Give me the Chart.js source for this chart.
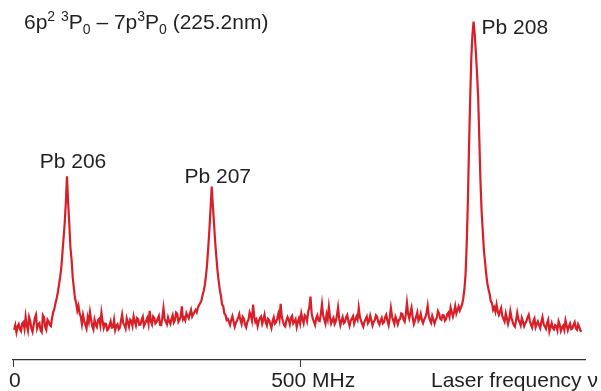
<!DOCTYPE html>
<html>
<head>
<meta charset="utf-8">
<script src="https://cdn.jsdelivr.net/npm/chart.js@4.4.1/dist/chart.umd.min.js"></script>
<style>
  body { margin: 0; background: #fff; }
  canvas { display: block; }
</style>
</head>
<body>
<canvas id="spectrum" width="601" height="391"></canvas>
<script>
// frequency grid of the scan (MHz)
const freqStartMHz = 2;
const freqStepMHz = 2;

// fluorescence signal, arbitrary units (baseline ~0, Pb 208 peak ~100)
const signal = [
  // 2 - 66
  -2.4, -0.9, -3.3, -1.4, -0.6, -2.2, -2.9, -0.3, 0.1, -2.1,
  1.9, -1.0, -2.7, 1.8, 0.5, -1.9, -3.1, -0.8, 1.5, 2.6,
  -1.9, -0.6, -0.2, -2.6, -3.2, 2.4, 1.7, -1.4, -2.4, 0.9,
  0.3, -0.8, -1.2,
  // 68 - 120  (Pb 206)
  1.5, 3.5, 4.5, 6.5, 8.0, 10, 12.5, 15, 18, 23,
  28, 33, 40, 48.7, 40, 33, 25, 21, 15, 11.5,
  8.0, 6.5, 4.0, 5.5, 3.0, 2.0, -0.5,
  // 122 - 314
  2.5, 0.6, -0.8, -2.0, 1.8, 0.2, 3.5, 1.0, -1.2, -2.3,
  0.9, -0.7, -1.5, 0.8, 1.2, -0.9, 3.2, 0.4, -1.8, -0.4,
  -0.5, -2.6, -2.2, -0.9, 0.4, -1.7, -1.6, 0.9, -2.5, -1.1,
  -0.6, -2.3, -1.8, 0.5, 2.6, -0.3, -0.9, -2.0, 1.4, 0.1,
  -1.4, 1.0, 0.6, -1.1, 2.0, 0.3, -1.0, 1.5, 1.1, -0.8,
  -0.7, 0.9, 1.9, -1.2, -0.4, 0.7, 1.6, -0.5, 3.9, 0.5,
  -0.6, 2.0, 1.4, -0.3, 0.2, 1.3, 2.2, -0.8, -0.9, 1.6,
  4.8, 1.1, 0.3, -0.6, 1.7, 0.4, -0.5, 1.2, 2.4, 0.0,
  0.8, 3.3, 2.9, 0.2, 0.9, 2.0, 5.4, 1.0, 1.6, 0.7,
  3.1, 2.2, 1.4, 3.0, 4.2, 2.0, 2.8,
  // 316 - 372  (Pb 207)
  3.5, 4.2, 3.4, 5.0, 5.8, 6.5, 7.2, 9.0, 10.5, 12.5,
  15.5, 19.5, 25, 31, 38, 45.3, 39, 33, 27, 22,
  17.5, 14, 11, 9, 6.0, 5.5, 3.0, 2.5, 0.8,
  // 374 - 766
  1.2, 0.3, -0.8, 0.9, 2.1, 0.4, -1.4, -0.2, 0.6, 1.5,
  2.8, 0.8, -0.5, 1.9, 1.3, -0.7, -1.6, 0.2, 0.9, 3.4,
  2.4, 0.7, 6.0, 2.1, 0.2, 1.0, -1.2, 0.5, 1.5, 2.0,
  -0.4, 0.9, 2.6, 0.1, -1.0, 1.2, 0.8, -0.6, -1.9, 0.4,
  1.7, -0.4, 0.1, 1.3, 2.9, 1.0, 6.2, 1.9, 0.4, -0.9,
  -1.3, 0.6, 1.8, 0.9, -0.6, 1.6, 2.2, -0.3, 0.3, 1.1,
  -1.5, 0.2, 1.4, -0.3, 3.0, 1.2, -0.2, 2.4, 1.9, 0.5,
  3.6, 5.0, 8.6, 3.1, 1.2, 0.3, -0.8, 1.4, 2.4, 0.7,
  0.5, 2.8, 6.1, 2.4, 1.0, -0.4, 2.7, 1.1, 5.2, 1.8,
  -0.3, 0.8, 1.6, -0.5, 0.4, 2.3, 5.0, 1.2, -0.9, 0.6,
  1.8, -0.2, 0.2, 1.7, 2.5, 0.4, -1.1, 0.6, 1.3, 2.1,
  -0.4, 0.9, 2.0, 1.0, 4.9, 1.8, 0.6, -0.5, -1.4, 0.3,
  1.1, 2.0, -0.2, 0.5, 2.3, 0.8, -1.0, 0.2, 0.8, 2.4,
  1.9, 0.1, -0.7, 0.6, 1.5, -0.3, 0.1, 1.8, 2.6, 0.5,
  -0.9, 1.5, 4.8, 2.0, 0.7, -0.5, 1.9, 0.9, -0.6, 0.8,
  1.2, 3.0, 2.8, 1.0, 0.3, 2.7, 6.5, 2.9, 1.4, 3.2,
  4.9, 1.5, -0.5, 0.7, 2.0, 3.4, 0.6, 1.3, 2.9, 0.8,
  -0.2, 1.0, 1.7, 3.2, 5.6, 2.1, 0.8, -0.1, 2.2, 1.0,
  -0.4, 0.9, 1.6, 3.8, 3.0, 1.2, 0.9, 2.5, 2.4, 0.6,
  1.1, 2.7, 3.3, 1.9, 5.0, 3.6, 2.0,
  // 768 - 844  (Pb 208)
  3.5, 5.5, 3.0, 4.2, 5.4, 4.0, 5.0, 6.0, 8.0, 11,
  16, 26, 40, 58, 74, 88, 96, 100.3, 96, 90,
  83, 75, 61, 47, 37, 30.5, 24, 20, 16, 13,
  11, 9.5, 7.0, 6.5, 4.2, 5.0, 3.6, 6.0, 3.8,
  // 846 - 990
  2.5, 3.6, 4.8, 2.2, 1.2, 0.3, 3.0, 1.4, -0.5, 1.0,
  3.8, 1.6, 0.2, -0.9, -1.4, 0.8, 3.2, 1.1, 0.1, -1.0,
  1.5, 0.2, -1.2, -0.2, 0.4, 1.7, 2.6, 0.5, -0.8, -1.7,
  0.5, 1.4, -1.6, -0.5, 0.3, -0.9, -1.9, 0.2, 1.8, -0.6,
  -1.3, -2.1, -0.2, 0.9, -3.0, -1.6, -0.2, -1.8, -2.3, -0.9,
  -1.2, -2.6, 0.4, -0.7, -2.8, -1.7, -1.1, -2.5, 0.7, -1.0,
  -2.6, -1.3, -0.4, -2.2, -2.0, -0.8, 0.1, -1.9, -2.4, -0.6,
  -1.5, -2.7, -3.1
];

const tickValues = [0, 500];
const tickLabels = ['0', '500 MHz'];
const axisLabel = 'Laser frequency \u03bd';

const peakNames = ['Pb 206', 'Pb 207', 'Pb 208'];
const peakFreqs = [94, 346, 802];

const points = signal.map((v, i) => ({ x: freqStartMHz + i * freqStepMHz, y: v }));

const FONT = '"Liberation Sans", Arial, Helvetica, sans-serif';
const TEXT = '#231f20';

const textPlugin = {
  id: 'texts',
  afterDraw(chart) {
    const ctx = chart.ctx;
    const xs = chart.scales.x;
    const ys = chart.scales.y;
    ctx.save();
    ctx.fillStyle = TEXT;
    ctx.textBaseline = 'alphabetic';
    ctx.font = '21px ' + FONT;

    // peak labels
    const off = [[6, -8, 'center'], [6, -4, 'center'], [8, 12, 'left']];
    peakNames.forEach((name, i) => {
      const idx = Math.round((peakFreqs[i] - freqStartMHz) / freqStepMHz);
      const px = xs.getPixelForValue(peakFreqs[i]);
      const py = ys.getPixelForValue(signal[idx]);
      ctx.textAlign = off[i][2];
      ctx.fillText(name, px + off[i][0], py + off[i][1]);
    });

    // tick labels + axis label
    const labelY = chart.chartArea.bottom + 27;
    const dx = [-4, -29];
    ctx.textAlign = 'left';
    tickValues.forEach((v, i) => {
      ctx.fillText(tickLabels[i], xs.getPixelForValue(v) + dx[i], labelY);
    });
    ctx.fillText(axisLabel, 431, labelY);

    // transition label
    const parts = [
      ['6p', 0, 21], ['2', -8, 14], [' ', 0, 21], ['3', -8, 14], ['P', 0, 21], ['0', 5, 14],
      [' \u2013 7p', 0, 21], ['3', -8, 14], ['P', 0, 21], ['0', 5, 14], [' (225.2nm)', 0, 21]
    ];
    let x = 24;
    parts.forEach(([s, dy, size]) => {
      ctx.font = size + 'px ' + FONT;
      ctx.fillText(s, x, 29 + dy);
      x += ctx.measureText(s).width;
    });
    ctx.restore();
  }
};

new Chart(document.getElementById('spectrum'), {
  type: 'line',
  data: {
    datasets: [{
      data: points,
      borderColor: '#d81e26',
      borderWidth: 2.2,
      pointRadius: 0,
      tension: 0,
      fill: false
    }]
  },
  options: {
    responsive: false,
    animation: false,
    layout: { padding: { left: 13, right: 16, top: 0, bottom: 24 } },
    plugins: { legend: { display: false }, tooltip: { enabled: false } },
    scales: {
      x: {
        type: 'linear',
        min: 0,
        max: 996,
        afterBuildTicks: axis => { axis.ticks = tickValues.map(v => ({ value: v })); },
        ticks: { display: false },
        grid: { drawOnChartArea: false, drawTicks: true, tickLength: 7, color: '#333', lineWidth: 1 },
        border: { display: true, color: '#333', width: 1.2 }
      },
      y: { display: false, min: -12.5, max: 107.5 }
    }
  },
  plugins: [textPlugin]
});
</script>
</body>
</html>
